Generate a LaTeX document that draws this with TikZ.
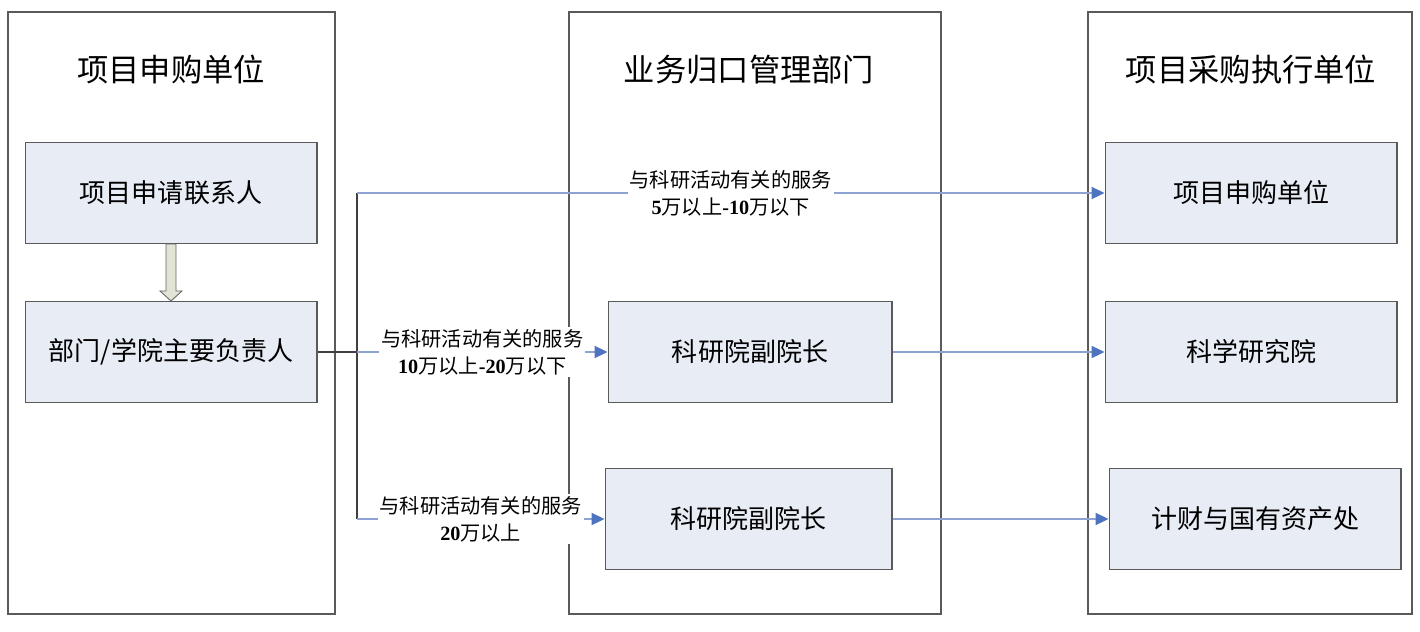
\documentclass[tikz,border=0pt]{standalone}
\usepackage{fontspec}
\setmainfont{Liberation Serif}
\newfontfamily\cjk{Noto Sans CJK SC}
\usetikzlibrary{arrows.meta,calc}
\definecolor{boxfill}{HTML}{E8ECF5}
\definecolor{boxline}{HTML}{5A5A5A}
\definecolor{linkblue}{HTML}{8CA3D3}
\definecolor{tipblue}{HTML}{4F74BE}
\definecolor{arrowfill}{HTML}{E1E3D4}
\tikzset{
 lane/.style={draw=boxline, line width=0.7pt},
 box/.style={draw=boxline, fill=boxfill, line width=0.6pt, minimum width=5.84cm, minimum height=2.02cm, font=\cjk\fontsize{14.8}{17}\selectfont},
 title/.style={font=\cjk\fontsize{17.8}{20}\selectfont},
 tag/.style={fill=white, align=center, inner sep=1pt, font=\fontsize{11.5}{15.3}\selectfont},
 trunk/.style={draw=black!75, line width=0.6pt},
 link/.style={draw=linkblue, line width=0.6pt, -{Triangle[length=7.4pt,width=7pt,color=tipblue]}},
}

\begin{document}
\begin{tikzpicture}[x=0.02cm, y=-0.02cm]
 \useasboundingbox (0,0) rectangle (1420,632);

 % 三栏
 \draw [lane] (8,12) rectangle (335,614);
 \draw [lane] (569,12) rectangle (941,614);
 \draw [lane] (1088,12) rectangle (1412,614);

 \node (t1) at (171,70) [title] {项目申购单位};
 \node (t2) at (749,70) [title] {业务归口管理部门};
 \node (t3) at (1251,70) [title] {项目采购执行单位};

 % 方框
 \node (apply) at (171,193) [box] {项目申请联系人};
 \node (head) at (171,352) [box] {部门/学院主要负责人};
 \node (vp1) at (750,352) [box, minimum width=5.68cm] {科研院副院长};
 \node (vp2) at (748.5,519) [box, minimum width=5.74cm] {科研院副院长};
 \node (unit) at (1251,193) [box] {项目申购单位};
 \node (sci) at (1251,352) [box] {科学研究院};
 \node (fin) at (1255,519) [box] {计财与国有资产处};

 % 空心箭头
 \draw [draw=black!60, fill=arrowfill, line width=0.5pt]
  ($(apply.south)+(-5,0)$) -- ($(head.north)+(-5,-10)$) -- ($(head.north)+(-11,-10)$)
  -- (head.north) -- ($(head.north)+(11,-10)$) -- ($(head.north)+(5,-10)$)
  -- ($(apply.south)+(5,0)$) -- cycle;

 \coordinate (fork) at (357,352);
 \coordinate (up) at (357,193);
 \coordinate (down) at (357,519);

 \draw [trunk] (head.east) -- (fork);
 \draw [trunk] (up) -- (down);

 \draw [link] (up) -- (unit.west)
  node [tag, pos=0.5] {{\cjk 与科研活动有关的服务}\\{\bfseries 5}{\cjk 万以上}{\bfseries -10}{\cjk 万以下}};
 \draw [link] (fork) -- (vp1.west)
  node [tag, pos=0.5] {{\cjk 与科研活动有关的服务}\\{\bfseries 10}{\cjk 万以上}{\bfseries -20}{\cjk 万以下}};
 \draw [link] (down) -- (vp2.west)
  node [tag, pos=0.5] {{\cjk 与科研活动有关的服务}\\{\bfseries 20}{\cjk 万以上}};

 \draw [link] (vp1.east) -- (sci.west);
 \draw [link] (vp2.east) -- (fin.west);
\end{tikzpicture}
\end{document}
